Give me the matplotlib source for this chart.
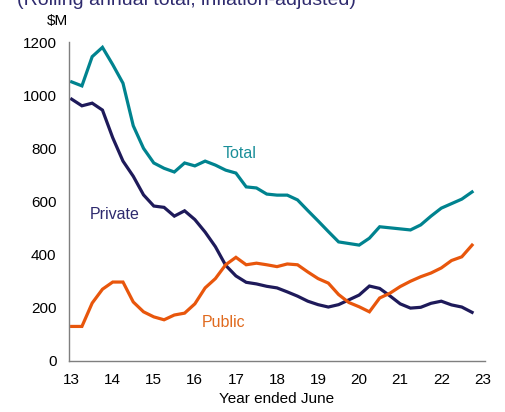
import numpy as np
import matplotlib
matplotlib.use("Agg")
import matplotlib.pyplot as plt

# Quarterly, year ended June (13 = 2013)
years = np.arange(13.0, 23.0, 0.25)

total = [1050, 1035, 1145, 1180, 1115, 1045, 885, 800, 745, 725,
         711, 745, 734, 752, 737, 718, 707, 655, 651, 628,
         624, 624, 606, 566, 527, 487, 448, 442, 436, 462,
         505, 501, 497, 493, 512, 545, 575, 592, 609, 636]
private = [985, 960, 970, 944, 840, 752, 695, 625, 583, 578,
           545, 565, 532, 485, 430, 360, 320, 296, 290, 281,
           275, 260, 244, 225, 212, 203, 212, 230, 248, 282,
           273, 245, 215, 199, 202, 217, 225, 211, 203, 183]
public = [130, 130, 218, 270, 297, 297, 222, 185, 166, 155,
          173, 180, 215, 275, 310, 362, 390, 362, 368, 362,
          355, 365, 362, 335, 310, 293, 250, 220, 204, 185,
          237, 255, 280, 300, 317, 331, 350, 378, 392, 436]

xticks = list(range(13, 24))
yticks = [0, 200, 400, 600, 800, 1000, 1200]

plt.rcParams['font.family'] = ['Liberation Sans', 'DejaVu Sans']

teal = '#00838F'
navy = '#1E1A5A'
orange = '#E8560C'

fig = plt.figure(figsize=(5.05, 4.12), dpi=100)
ax = fig.add_axes([0.1366, 0.1238, 0.8234, 0.7742])

ax.plot(years, total, color=teal, lw=2.3, solid_joinstyle='miter')
ax.plot(years, private, color=navy, lw=2.3, solid_joinstyle='miter')
ax.plot(years, public, color=orange, lw=2.3, solid_joinstyle='miter')

ax.set_xlim(12.935, 23.06)
ax.set_ylim(0, 1200)
ax.set_xticks(xticks)
ax.set_xticklabels([str(t) for t in xticks])
ax.set_yticks(yticks)
ax.tick_params(axis='both', length=0, labelsize=11, colors='black')
ax.tick_params(axis='x', pad=9)
ax.tick_params(axis='y', pad=9)
for s in ['top', 'right']:
    ax.spines[s].set_visible(False)
for s in ['left', 'bottom']:
    ax.spines[s].set_color('#7f7f7f')
    ax.spines[s].set_linewidth(1.0)

ax.set_xlabel('Year ended June', fontsize=11, labelpad=3)

ax.text(17.1, 782, 'Total', color='#1A8F99', fontsize=11.5, ha='center', va='center')
ax.text(14.05, 553, 'Private', color='#2E2A6E', fontsize=11.5, ha='center', va='center')
ax.text(16.7, 143, 'Public', color='#E06A1E', fontsize=11.5, ha='center', va='center')

fig.text(0.113, 0.950, '$M', fontsize=11, ha='center', va='center')
# subtitle runs off the top edge, as in the original
fig.text(0.033, 0.989, '(Rolling annual total, inflation-adjusted)', fontsize=14,
         color='#2E2A6E', ha='left', va='baseline')

fig.savefig('out.png', dpi=100)
